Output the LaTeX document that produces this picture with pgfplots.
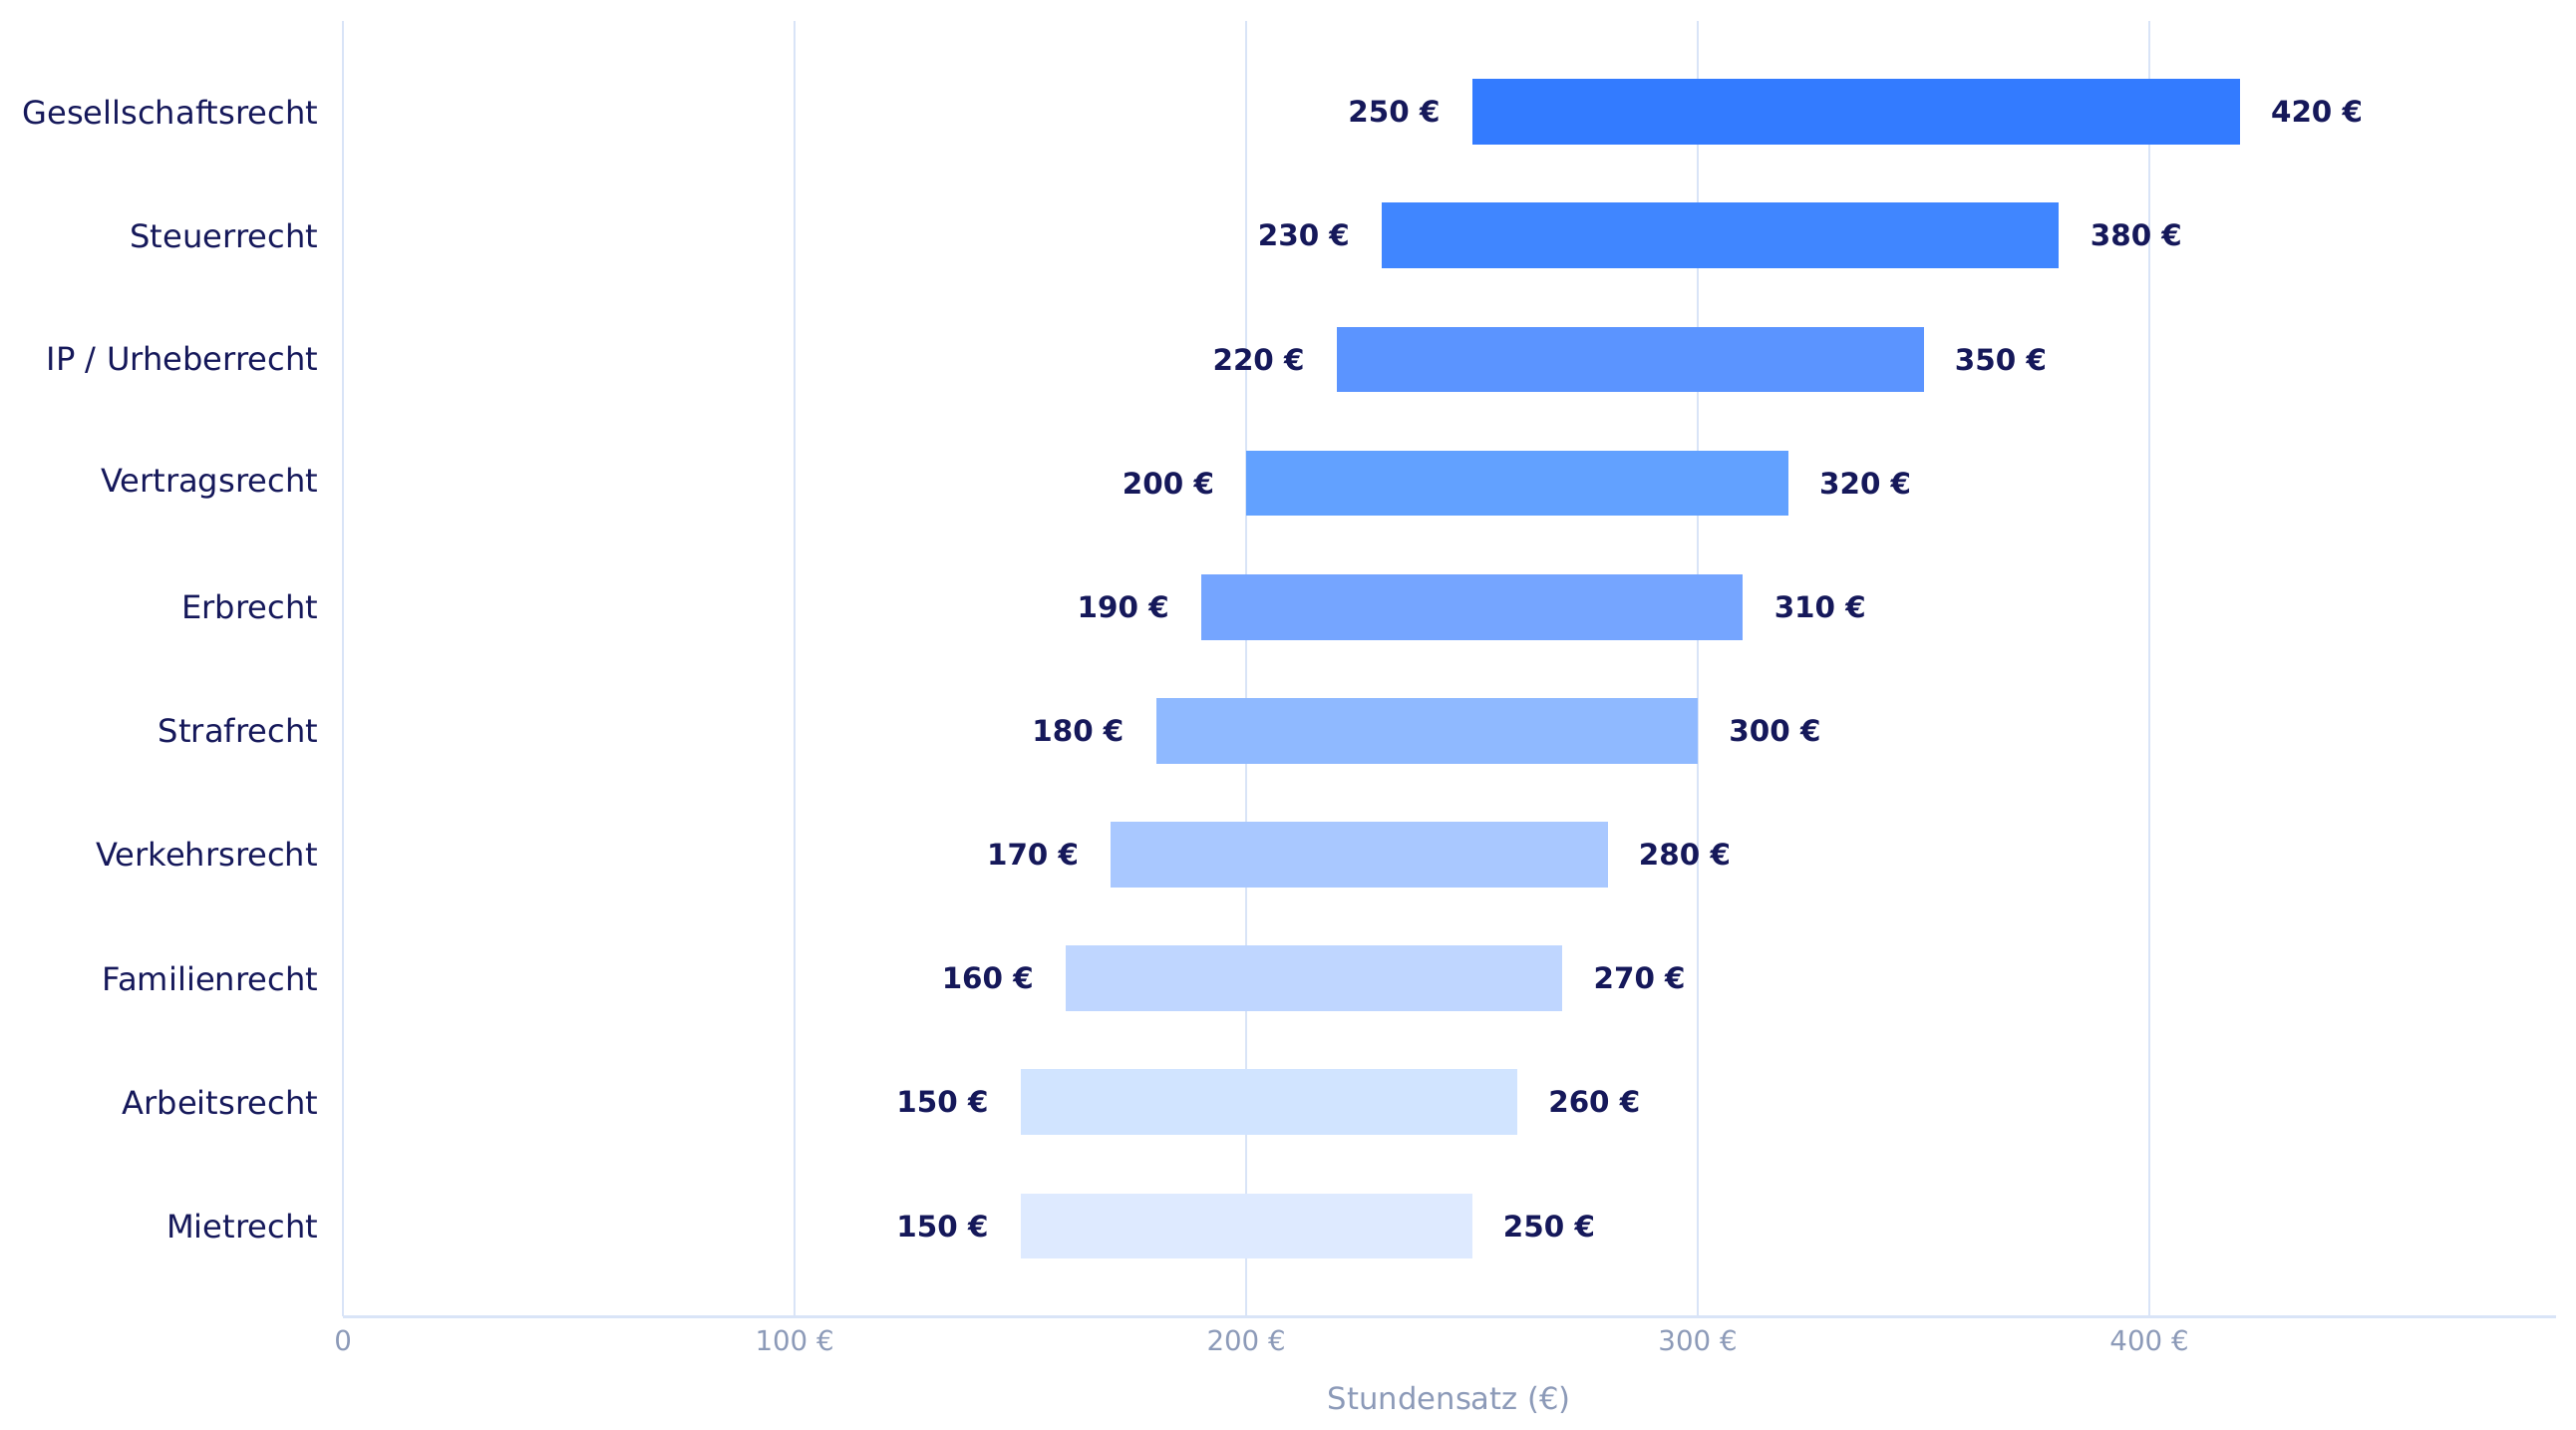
\documentclass[border=0pt]{standalone}
\usepackage{fontspec}
\setmainfont{DejaVu Sans}
\usepackage{pgfplots}
\usepackage{pgfplotstable}
\pgfplotsset{compat=1.18}
\definecolor{txt}{HTML}{15185A}
\definecolor{tick}{HTML}{8C9AB8}
\definecolor{gridc}{HTML}{D9E4F7}
\definecolor{bar9}{HTML}{337BFF}
\definecolor{bar8}{HTML}{4086FF}
\definecolor{bar7}{HTML}{5B94FF}
\definecolor{bar6}{HTML}{62A1FF}
\definecolor{bar5}{HTML}{75A5FF}
\definecolor{bar4}{HTML}{8FB9FF}
\definecolor{bar3}{HTML}{A9C8FF}
\definecolor{bar2}{HTML}{BFD6FF}
\definecolor{bar1}{HTML}{D1E4FF}
\definecolor{bar0}{HTML}{DEEAFF}
\pgfplotstableread{
y low high
0 150 250
1 150 260
2 160 270
3 170 280
4 180 300
5 190 310
6 200 320
7 220 350
8 230 380
9 250 420
}\data
\pgfplotsset{
  common/.style={
    at={(0,0)}, anchor=south west,
    scale only axis, width=898.4pt, height=525.6pt,
    xmin=0, xmax=490, ymin=-0.73, ymax=9.73,
    clip=false,
    /pgf/number format/assume math mode=true,
  }
}
\begin{document}
\begin{tikzpicture}
\begin{axis}[
  common,
  xbar stacked, bar width=26.6pt,
  axis lines*=left,
  x axis line style={draw=gridc, line width=1.2pt},
  y axis line style={draw=gridc, line width=0.8pt},
  xmajorgrids, grid style={draw=gridc, line width=0.8pt},
  major tick length=0pt,
  xtick={0,100,200,300,400},
  xticklabels={0,100 €,200 €,300 €,400 €},
  ytick={0,...,9},
  yticklabels={Mietrecht,Arbeitsrecht,Familienrecht,Verkehrsrecht,Strafrecht,Erbrecht,Vertragsrecht,IP / Urheberrecht,Steuerrecht,Gesellschaftsrecht},
  xticklabel style={font=\fontsize{11.2}{13}\selectfont, text=tick, anchor=north, inner sep=0pt, yshift=-5.3pt},
  yticklabel style={font=\fontsize{13}{15}\selectfont, text=txt, anchor=east, inner sep=0pt, xshift=-10pt},
  xlabel={Stundensatz (€)},
  xlabel style={font=\fontsize{12.4}{14}\selectfont, text=tick, at={(axis description cs:0.5,0)}, anchor=center, yshift=-34pt},
]
\addplot[draw=none, fill=none] table[x=low, y=y]{\data};
\pgfplotsinvokeforeach{0,...,9}{
  \addplot[draw=none, fill=bar#1]
    table[x expr={ifthenelse(\coordindex==#1,\thisrow{high}-\thisrow{low},0)}, y=y]{\data};
}
\end{axis}
\begin{axis}[
  common, hide axis,
  nodes near coords={\pgfmathprintnumber{\pgfplotspointmeta} €},
  nodes near coords style={font=\fontsize{11.9}{14}\selectfont\bfseries, text=txt, inner sep=0pt},
]
\addplot[only marks, mark=none, point meta=x,
  nodes near coords style={anchor=east, xshift=-12.8pt}]
  table[x=low, y=y]{\data};
\addplot[only marks, mark=none, point meta=x,
  nodes near coords style={anchor=west, xshift=12.5pt}]
  table[x=high, y=y]{\data};
\end{axis}
\pgfresetboundingbox
\path (-139.3pt,-46.1pt) rectangle (906.6pt,534.3pt);
\end{tikzpicture}
\end{document}
